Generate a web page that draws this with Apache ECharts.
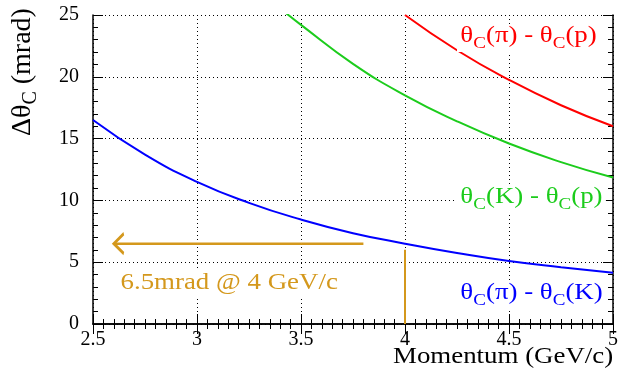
<!DOCTYPE html>
<html>
<head>
<meta charset="utf-8">
<script src="https://cdn.jsdelivr.net/npm/echarts@6/dist/echarts.min.js"></script>
<style>
  html, body { margin: 0; padding: 0; background: #fff; }
  #chart { width: 621px; height: 370px; }
</style>
</head>
<body>
<div id="chart"></div>
<script>
// values (momentum GeV/c, delta theta mrad)
var piK_p   = [2.5, 2.75, 3.0, 3.25, 3.5, 3.75, 4.0, 4.25, 4.5, 4.75, 5.0];
var piK_val = [16.5, 13.7, 11.5, 9.8, 8.45, 7.35, 6.5, 5.75, 5.1, 4.6, 4.15];
var Kp_p    = [3.41, 3.5, 3.75, 4.0, 4.25, 4.5, 4.75, 5.0];
var Kp_val  = [25.4, 24.2, 21.05, 18.5, 16.4, 14.6, 13.1, 11.85];
var pip_p   = [4.0, 4.25, 4.5, 4.75, 5.0];
var pip_val = [25.0, 22.15, 19.75, 17.7, 16.0];
// annotation: arrow at 6.5 mrad, marker at 4 GeV/c
var arrowX = [3.8, 2.6];
var arrowY = 6.5;
var markX = 4.0;
var markY = [0, 6.0];

var orange = '#d4981c';
var serif = 'Liberation Serif';
var stretch = 1.12; // the original picture is a bit wider than tall

function pairs(xs, ys) {
  var out = [];
  for (var i = 0; i < xs.length; i++) out.push([xs[i], ys[i]]);
  return out;
}

// theta_C style label with subscripts
function label(txt, color, size, bg) {
  return {
    text: txt,
    fill: color,
    fontSize: size,
    fontFamily: serif,
    backgroundColor: bg ? '#fff' : 'transparent',
    padding: bg ? [0, 3, 0, 3] : 0,
    rich: {
      m: { fontSize: size, fontFamily: serif, fill: color, lineHeight: size + 4, verticalAlign: 'top' },
      s: { fontSize: Math.round(size * 0.72), fontFamily: serif, fill: color, lineHeight: 14,
           verticalAlign: 'bottom', padding: [Math.round(size * 0.55), 0, 0, 0] }
    }
  };
}

var chart = echarts.init(document.getElementById('chart'));

var tickStyle = { color: '#000', width: 1 };
var gridDots = { show: true, lineStyle: { color: '#000', type: [1, 3], width: 1 } };

function axis(extra) {
  return Object.assign({
    axisLine: { show: true, lineStyle: { color: '#000', width: 1.5 } },
    axisTick: { show: true, inside: true, length: 10, lineStyle: tickStyle },
    splitLine: { show: false }
  }, extra);
}

var option = {
  animation: false,
  grid: { left: 93, right: 8, top: 15, bottom: 46 },
  xAxis: [
    axis({ type: 'value', min: 2.5, max: 5, interval: 0.5, position: 'bottom',
      minorTick: { show: true, splitNumber: 10, length: 5, lineStyle: tickStyle },
      axisLabel: { color: '#000', fontFamily: serif, fontSize: 20, margin: 6,
        formatter: function (v) { return String(v); } },
      splitLine: gridDots }),
    axis({ type: 'value', min: 2.5, max: 5, interval: 0.5, position: 'top',
      minorTick: { show: true, splitNumber: 10, length: 5, lineStyle: tickStyle },
      axisLabel: { show: false } })
  ],
  yAxis: [
    axis({ type: 'value', min: 0, max: 25, interval: 5, position: 'left',
      minorTick: { show: true, splitNumber: 5, length: 5, lineStyle: tickStyle },
      axisLabel: { color: '#000', fontFamily: serif, fontSize: 20, margin: 14 },
      splitLine: gridDots }),
    axis({ type: 'value', min: 0, max: 25, interval: 5, position: 'right',
      minorTick: { show: true, splitNumber: 5, length: 5, lineStyle: tickStyle },
      axisLabel: { show: false } })
  ],
  series: [
    { type: 'line', data: pairs(piK_p, piK_val), smooth: true, symbol: 'none',
      lineStyle: { color: '#0000ff', width: 2 }, clip: true },
    { type: 'line', data: pairs(Kp_p, Kp_val), smooth: true, symbol: 'none',
      lineStyle: { color: '#1ccc1c', width: 2 }, clip: true },
    { type: 'line', data: pairs(pip_p, pip_val), smooth: true, symbol: 'none',
      lineStyle: { color: '#ff0000', width: 2 }, clip: true },
    { type: 'line', symbol: 'none', lineStyle: { color: orange, width: 2.5 },
      data: [
        [arrowX[0], arrowY],
        { value: [arrowX[1], arrowY], symbol: 'path://M10,0L0,10L10,20', symbolSize: [10, 20],
          symbolOffset: [5, 0], itemStyle: { color: 'none', borderColor: orange, borderWidth: 2.5 } }
      ] },
    { type: 'line', symbol: 'none', lineStyle: { color: orange, width: 2 },
      data: [[markX, markY[0]], [markX, markY[1]]] }
  ],
  graphic: [
    { type: 'text', z: 100, x: 457, y: 24, scaleX: stretch,
      style: label('{m|θ}{s|C}{m|(π) - θ}{s|C}{m|(p)}', '#ff0000', 24, true) },
    { type: 'text', z: 100, x: 457, y: 185, scaleX: stretch,
      style: label('{m|θ}{s|C}{m|(K) - θ}{s|C}{m|(p)}', '#1ccc1c', 24, true) },
    { type: 'text', z: 100, x: 457, y: 281, scaleX: stretch,
      style: label('{m|θ}{s|C}{m|(π) - θ}{s|C}{m|(K)}', '#0000ff', 24, true) },
    { type: 'text', z: 100, x: 116, y: 269, scaleX: stretch,
      style: { text: '6.5mrad @ 4 GeV/c', fill: orange, fontSize: 24, fontFamily: serif,
               backgroundColor: '#fff', padding: [2, 4, 2, 4] } },
    { type: 'text', z: 100, x: 393, y: 345, scaleX: stretch,
      style: { text: 'Momentum (GeV/c)', fill: '#000', fontSize: 24, fontFamily: serif } },
    { type: 'text', z: 100, x: 9, y: 136, rotation: Math.PI / 2,
      style: label('{m|Δθ}{s|C}{m| (mrad)}', '#000', 28, false) }
  ]
};

chart.setOption(option);
</script>
</body>
</html>
